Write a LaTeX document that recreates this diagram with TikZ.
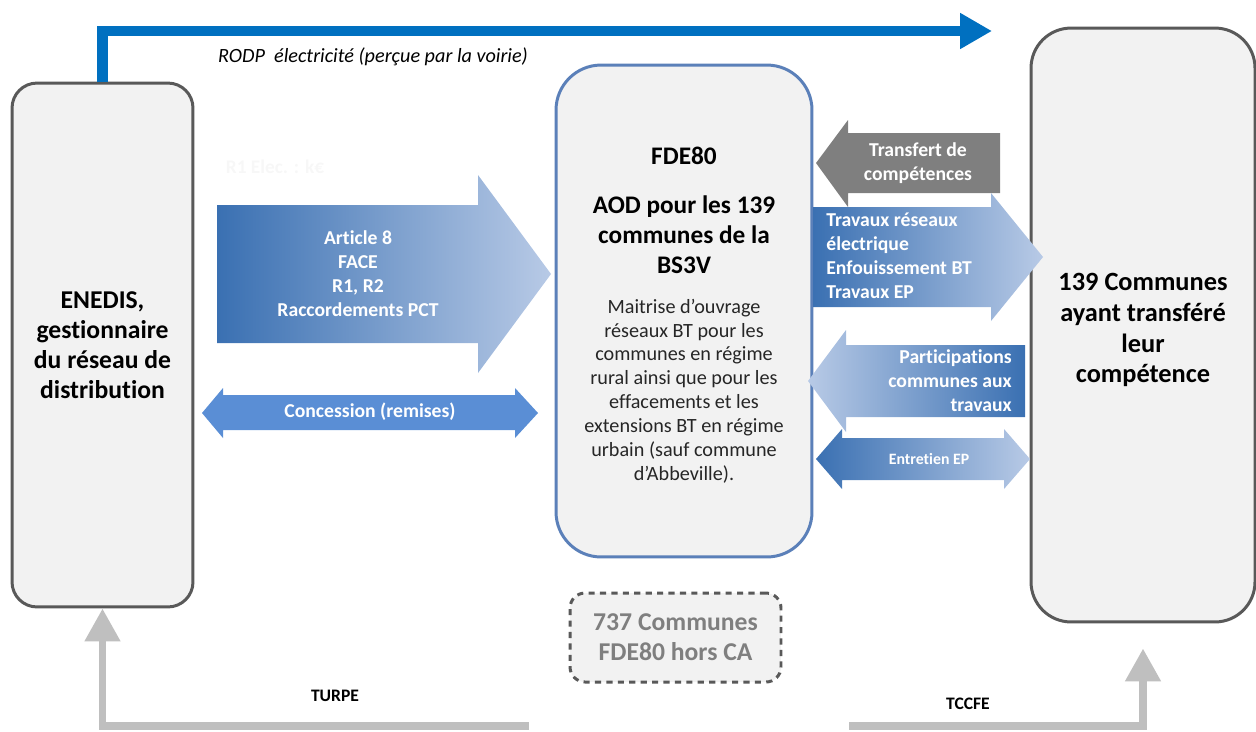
\documentclass[tikz,border=0pt]{standalone}
\usepackage{fontspec}
\setmainfont[Ligatures=NoCommon]{Carlito}
\usetikzlibrary{arrows.meta}
\definecolor{boxfill}{HTML}{F2F2F2}
\definecolor{boxline}{HTML}{595959}
\definecolor{fdeline}{HTML}{5B80B9}
\definecolor{rodpblue}{HTML}{0070C0}
\definecolor{flowdark}{HTML}{3A70B2}
\definecolor{flowlight}{HTML}{B8CAE6}
\definecolor{concblue}{HTML}{5A8ED5}
\definecolor{taxgray}{HTML}{BFBFBF}
\definecolor{transgray}{HTML}{7F7F7F}
\begin{document}
\begin{tikzpicture}[x=0.02cm, y=-0.02cm,
  actor/.style={draw=boxline, fill=boxfill, line width=1.7pt, rounded corners=0.5cm, align=center,
    font=\fontsize{14.6}{17}\selectfont\bfseries},
  flowtxt/.style={text=white, font=\fontsize{11.2}{13.6}\selectfont\bfseries, inner sep=0pt},
  taxline/.style={draw=taxgray, line width=4.5pt, -{Triangle[length=0.66cm, width=0.68cm]}},
  taxtxt/.style={font=\fontsize{10}{12}\selectfont\bfseries}]
\useasboundingbox (0,0) rectangle (1256,731);
% acteurs
\node[actor, minimum width=3.62cm, minimum height=10.48cm] (enedis) at (102.5,345)
  {ENEDIS,\\gestionnaire\\du réseau de\\distribution};
\node[actor, draw=fdeline, rounded corners=0.9cm, minimum width=5.12cm, minimum height=9.84cm] (fde) at (684,311) {};
\node[actor, rounded corners=0.8cm, minimum width=4.48cm, minimum height=11.88cm] (communes) at (1143,325) {};
\node[align=center, font=\fontsize{15}{17.6}\selectfont\bfseries] (comtxt) at (1143,330)
  {139 Communes\\ayant transféré\\leur\\compétence};
\node[actor, dash pattern=on 3.5pt off 3pt, rounded corners=0.3cm, minimum width=4.22cm, minimum height=1.78cm,
  text=transgray] (hors) at (675.5,637.5) {737 Communes\\FDE80 hors CA};
\node[align=center, font=\fontsize{14.4}{17}\selectfont\bfseries] (fdetitle) at (684,210)
  {FDE80\\[11pt]AOD pour les 139\\communes de la\\BS3V};
\node[align=center, font=\fontsize{11.5}{13.6}\selectfont, text=black!85] (fdebody) at (684,391)
  {Maitrise d’ouvrage\\réseaux BT pour les\\communes en régime\\rural ainsi que pour les\\effacements et les\\extensions BT en régime\\urbain (sauf commune\\d’Abbeville).};
% RODP
\coordinate (rodpend) at (992,31);
\draw[rodpblue, line width=5.7pt, -{Triangle[length=0.64cm, width=0.68cm]}] (enedis.north) |- (rodpend);
\node[font=\fontsize{11.5}{13}\selectfont\itshape] (rodp) at (373,57) {RODP\ \ électricité (perçue par la voirie)};
\node[text=black!3, font=\fontsize{11}{13}\selectfont\bfseries] (relec) at (275,167) {R1 Elec. : k€};
% flux ENEDIS -> FDE80
\shade[left color=flowdark, right color=flowlight] (217,205) -- (478,205) -- (478,175) -- (551,274)
  -- (478,373) -- (478,343) -- (217,343) -- cycle;
\node[flowtxt, align=center] (art) at (358,274) {Article 8\\FACE\\R1, R2\\Raccordements PCT};
\fill[concblue] (202,413) -- (223,388) -- (223,395) -- (515,395) -- (515,388) -- (538,413)
  -- (515,438) -- (515,430) -- (223,430) -- (223,438) -- cycle;
\node[flowtxt] (conc) at (370,412) {Concession (remises)};
% flux FDE80 <-> communes
\fill[transgray] (816,163) -- (848,120) -- (848,133) -- (1000,133) -- (1000,193) -- (848,193) -- (848,207) -- cycle;
\node[flowtxt, align=center] (transfert) at (918,163) {Transfert de\\compétences};
\shade[left color=flowdark, right color=flowlight] (813,207) -- (991,207) -- (991,193) -- (1043,257)
  -- (991,321) -- (991,307) -- (813,307) -- cycle;
\node[flowtxt, align=left, anchor=west] (travaux) at (826,256)
  {Travaux réseaux\\électrique\\Enfouissement BT\\Travaux EP};
\shade[left color=flowlight, right color=flowdark] (808,381) -- (846,330) -- (846,345) -- (1025,345)
  -- (1025,417) -- (846,417) -- (846,432) -- cycle;
\node[flowtxt, align=right, anchor=east] (particip) at (1012,381)
  {Participations\\communes aux\\travaux};
\shade[left color=flowdark, right color=flowlight] (816,459) -- (842,429) -- (842,438) -- (1004,438)
  -- (1004,429) -- (1030,459) -- (1004,489) -- (1004,480) -- (842,480) -- (842,489) -- cycle;
\node[flowtxt, font=\fontsize{9}{11}\selectfont\bfseries] (entretien) at (929,459) {Entretien EP};
% taxes
\coordinate (turpestart) at (529,726);
\coordinate (tccfestart) at (849,726);
\draw[taxline] (turpestart) -| (enedis.south);
\draw[taxline, shorten >=0.5cm] (tccfestart) -| (communes.south);
\node[taxtxt] (turpe) at (335,696) {TURPE};
\node[taxtxt] (tccfe) at (968,704) {TCCFE};
\end{tikzpicture}
\end{document}
